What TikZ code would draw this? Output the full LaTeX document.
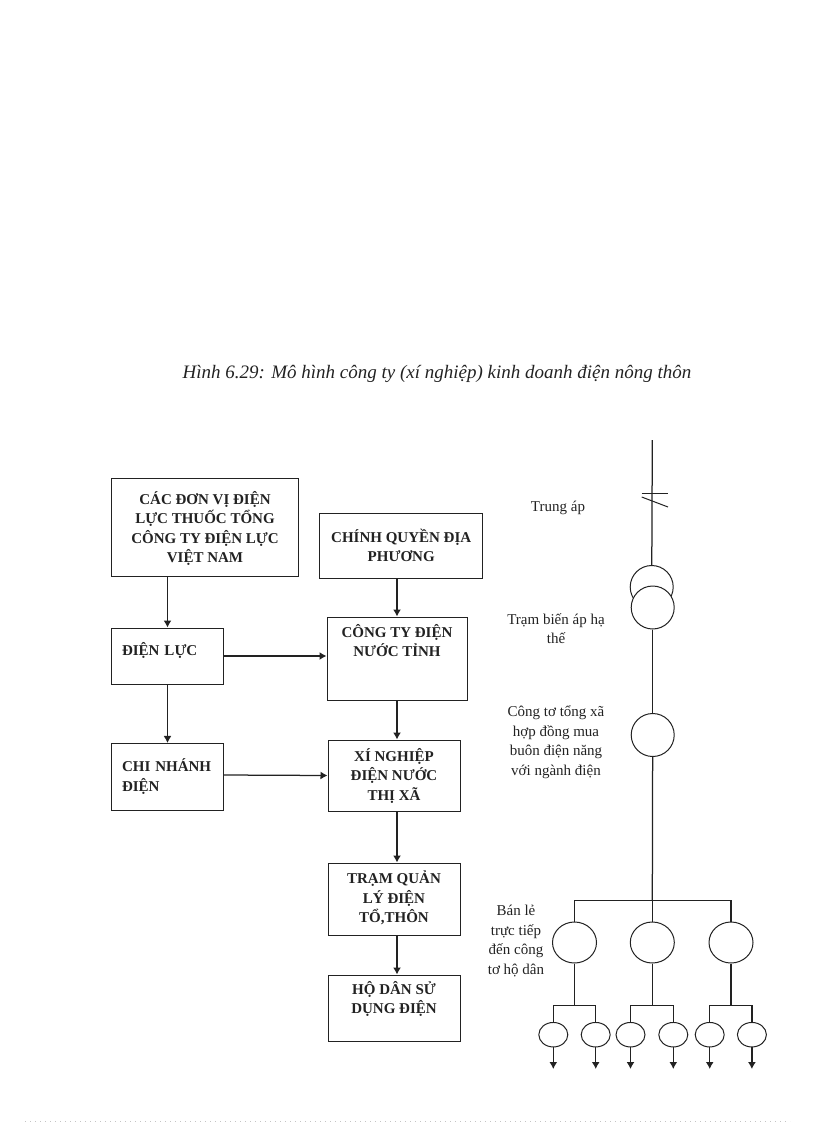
\documentclass[tikz,border=0pt]{standalone}
\usepackage{fontspec}
\setmainfont{Liberation Serif}
\usetikzlibrary{arrows.meta,shapes.geometric}
\definecolor{inkdark}{HTML}{222222}
\definecolor{dotgrey}{HTML}{C4C4C4}

\begin{document}
\begin{tikzpicture}[
    x=1pt, y=-1pt,
    unit/.style={draw=inkdark, line width=1pt, inner sep=0pt, align=center,
      font=\fontsize{15}{19.5}\selectfont\bfseries, text=inkdark},
    leftunit/.style={unit, align=left, inner xsep=10.5pt, text width=91pt},
    wire/.style={draw=inkdark, line width=1.25pt},
    arrowline/.style={wire, -{Latex[length=7pt,width=8pt]}},
    note/.style={align=center, font=\fontsize{15}{19.5}\selectfont, text=inkdark},
    bigdot/.style={draw=inkdark, fill=white, line width=1pt, circle, minimum size=43pt, inner sep=0pt},
    midmeter/.style={draw=inkdark, fill=white, line width=1pt, ellipse, minimum width=44pt, minimum height=41pt, inner sep=0pt},
    smallmeter/.style={draw=inkdark, fill=white, line width=1pt, ellipse, minimum width=29pt, minimum height=24.5pt, inner sep=0pt},
  ]
  \useasboundingbox (0,0) rectangle (816,1123);

  % ---- caption
  \node[font=\fontsize{19}{22}\selectfont\itshape, text=inkdark] (caption) at (437,374)
    {Hình 6.29: Mô hình công ty (xí nghiệp) kinh doanh điện nông thôn};

  % ---- organisation boxes
  \node[unit, minimum width=187pt, minimum height=98pt] (evn) at (205,527)
    {\rule{0pt}{16pt}CÁC ĐƠN VỊ ĐIỆN\\LỰC THUỐC TỔNG\\CÔNG TY ĐIỆN LỰC\\VIỆT NAM};
  \node[unit, minimum width=162.5pt, minimum height=65pt] (local) at (401.2,545.5)
    {CHÍNH QUYỀN ĐỊA\\PHƯƠNG};
  \node[leftunit, minimum height=56pt] (power) at (167.5,656)
    {ĐIỆN LỰC\\[-6pt]\mbox{}};
  \node[unit, minimum width=140pt, minimum height=83pt] (province) at (397,658.5)
    {CÔNG TY ĐIỆN\\NƯỚC TỈNH\\[17pt]\mbox{}};
  \node[leftunit, minimum height=67.5pt] (branch) at (167.5,777.2)
    {\mbox{CHI\hspace{5pt}NHÁNH}\\ĐIỆN\\[-15.5pt]\mbox{}};
  \node[unit, minimum width=132pt, minimum height=71pt] (town) at (394,775.5)
    {XÍ NGHIỆP\\ĐIỆN NƯỚC\\THỊ XÃ};
  \node[unit, minimum width=132pt, minimum height=72pt] (station) at (394,899)
    {TRẠM QUẢN\\LÝ ĐIỆN\\TỔ,THÔN\\[-15.5pt]\mbox{}};
  \node[unit, minimum width=132pt, minimum height=66pt] (house) at (394,1008)
    {HỘ DÂN SỬ\\DỤNG ĐIỆN\\[2pt]\mbox{}};

  % ---- arrows between the boxes
  \coordinate (spine) at (397,0);
  \draw[arrowline] (power.north |- evn.south) -- (power.north);
  \draw[arrowline] (power) -- (branch);
  \draw[arrowline] (spine |- local.south) -- (spine |- province.north);
  \draw[arrowline] (province) -- (spine |- town.north);
  \draw[arrowline] (spine |- town.south) -- (spine |- station.north);
  \draw[arrowline] (spine |- station.south) -- (spine |- house.north);
  \draw[arrowline] (power.east) -- (power.east -| province.west);
  \draw[arrowline] (branch.east |- town) ++(0,-0.5) -- (town.west);

  % ---- supply line
  \coordinate (feed) at (652.3,440);
  \coordinate (bus) at (652.3,900.5);
  \node[bigdot] (coilA) at (651.7,587) {};
  \node[bigdot] (coilB) at (652.7,607.5) {};
  \node[bigdot] (meter) at (652.7,735) {};
  \draw[wire] (feed) -- (coilA);
  \draw[wire] (coilB) -- (meter);
  \draw[wire] (meter) -- (bus);

  % ---- the two ticks on the line
  \draw[draw=inkdark, line width=1pt] (641.7,493) -- (668,493);
  \draw[draw=inkdark, line width=1pt] (641.7,497) -- (668,507);

  % ---- feeders, each with two household meters
  \foreach \i/\x/\a/\b in {1/574.5/553.3/595.7, 2/652.3/630.5/673.3, 3/731/709.7/751.9} {
    \node[midmeter] (feeder\i) at (\x,942.5) {};
    \coordinate (split\i) at (\x,1005.3);
    \draw[wire] (bus) -| (feeder\i);
    \draw[wire] (feeder\i) -- (split\i);
    \node[smallmeter] (house\i a) at (\a,1034.7) {};
    \node[smallmeter] (house\i b) at (\b,1034.7) {};
    \draw[wire] (house\i a) |- (split\i) -| (house\i b);
    \coordinate (drop\i a) at (\a,1069);
    \coordinate (drop\i b) at (\b,1069);
    \draw[arrowline] (house\i a) -- (drop\i a);
    \draw[arrowline] (house\i b) -- (drop\i b);
  }

  % ---- notes beside the line
  \node[note] (medium) at (558,508) {Trung áp};
  \node[note] (substation) at (556,628.5) {Trạm biến áp hạ\\thế};
  \node[note] (metering) at (556,742) {Công tơ tổng xã\\hợp đồng mua\\buôn điện năng\\với ngành điện};
  \node[note] (retail) at (516,941) {Bán lẻ\\trực tiếp\\đến công\\tơ hộ dân};

  % ---- faint dotted rule at the foot of the page
  \draw[dotgrey, line width=0.6pt, dash pattern=on 1pt off 4pt] (25,1121) -- (790,1121);

\end{tikzpicture}
\end{document}
